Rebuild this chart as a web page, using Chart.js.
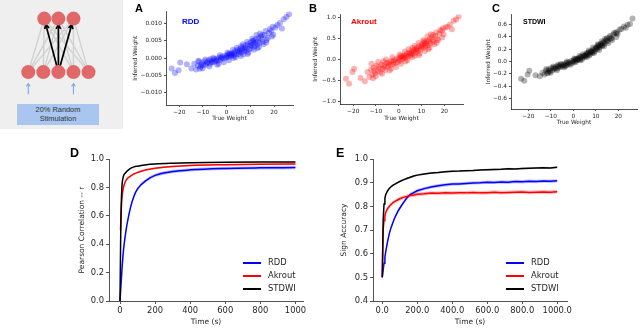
<!DOCTYPE html>
<html>
<head>
<meta charset="utf-8">
<script src="https://cdn.jsdelivr.net/npm/chart.js@4.4.1/dist/chart.umd.min.js"></script>
<style>
  body { margin: 0; width: 640px; height: 329px; background: #fff; position: relative; overflow: hidden; font-family: "DejaVu Sans", sans-serif; }
  canvas { position: absolute; }
  .letter { position: absolute; font-family: "Liberation Sans", Arial, sans-serif; font-weight: bold; color: #000; line-height: 1; z-index: 2; }
  .tag { position: absolute; font-family: "Liberation Sans", Arial, sans-serif; font-weight: bold; line-height: 1; z-index: 2; }
  .leg { position: absolute; font-size: 8.4px; color: #262626; z-index: 2; }
  .leg div { height: 13px; line-height: 13px; white-space: nowrap; }
  .leg span { display: inline-block; width: 18px; height: 2px; vertical-align: middle; margin-right: 7px; }
  #netbg { position: absolute; left: 0; top: 0; width: 123px; height: 129px; background: #efefef; }
  #stim { position: absolute; left: 17px; top: 104px; width: 82px; height: 21px; background: #a8c6f0;
          font-family: "Liberation Sans", Arial, sans-serif; font-size: 7.4px; line-height: 8.5px; color: #333;
          text-align: center; display: flex; align-items: center; justify-content: center; z-index: 2; }
</style>
</head>
<body>
<div id="netbg"></div>
<canvas id="net"></canvas>
<div id="stim">20% Random<br>Stimulation</div>

<canvas id="chartA"></canvas>
<canvas id="chartB"></canvas>
<canvas id="chartC"></canvas>
<canvas id="chartD"></canvas>
<canvas id="chartE"></canvas>

<div class="letter" style="left:135px;top:3px;font-size:11px">A</div>
<div class="letter" style="left:309px;top:3px;font-size:11px">B</div>
<div class="letter" style="left:492px;top:3px;font-size:11px">C</div>
<div class="letter" style="left:70px;top:147px;font-size:12.5px">D</div>
<div class="letter" style="left:336px;top:147px;font-size:12.5px">E</div>

<div class="tag" style="left:182px;top:18px;font-size:8px;color:#0000ff">RDD</div>
<div class="tag" style="left:351px;top:18px;font-size:8px;color:#ff0000">Akrout</div>
<div class="tag" style="left:523px;top:18px;font-size:7px;color:#000">STDWI</div>

<div class="leg" style="left:243px;top:256px">
  <div><span style="background:#0000ff"></span>RDD</div>
  <div><span style="background:#ff0000"></span>Akrout</div>
  <div><span style="background:#000"></span>STDWI</div>
</div>
<div class="leg" style="left:506px;top:256px">
  <div><span style="background:#0000ff"></span>RDD</div>
  <div><span style="background:#ff0000"></span>Akrout</div>
  <div><span style="background:#000"></span>STDWI</div>
</div>

<script>
// ---- network diagram ----
const topNodesX = [42, 58, 75];
const bottomNodesX = [24, 41, 58, 75, 92];
const topRowY = 13;
const bottomRowY = 73;
const hubIndex = 2;            // bottom node that drives the top layer
const stimulatedX = [24, 75];  // blue input arrows
const stimFromY = 98, stimToY = 86;

// ---- scatter panels (true vs inferred weight) ----
const trueWeight = [-23.2, -21.8, -20.3, -19.6, -16.8, -14.9, -13.7, -12.9, -12.2, -11.6,
  -11.0, -10.4, -9.9, -9.3, -8.8, -8.1, -7.6, -7.0, -6.5, -5.9,
  -5.3, -4.8, -4.2, -3.7, -3.1, -2.6, -2.0, -1.5, -0.9, -0.4,
  0.2, 0.7, 1.3, 1.8, 2.4, 2.9, 3.5, 4.0, 4.6, 5.1,
  5.7, 6.2, 6.8, 7.3, 7.9, 8.4, 9.0, 9.5, 10.1, 10.6,
  11.2, 11.7, 12.3, 12.8, 13.4, 13.9, 14.5, 15.2, 16.0, 16.9,
  17.8, 18.9, 19.7, 20.6, 21.4, 22.5, 23.3, 24.1, 25.2, 26.3,
  -10.8, -8.4, -6.2, -4.5, -2.3, -0.1, 1.6, 3.2, 4.9, 6.5,
  8.1, 9.8, 11.4, 13.1, 14.8, 2.1, 5.4, 7.6, 10.3, 12.0,
  -12.0, -10.1, -9.0, -7.3, -5.6, -4.0, -2.8, -1.2, 0.4, 1.0,
  2.7, 3.8, 4.3, 5.9, 6.9, 7.1, 8.7, 9.2, 10.8, 11.5,
  12.6, 13.6, 14.1, 15.6, 16.4, 17.3, 18.2, 19.1, -11.3, -6.8,
  -3.4, 0.9, 3.0, 6.0, 8.9, 11.0, 13.0, 15.0, 16.7, 19.4];

const rddInferred = [-0.0030, -0.0043, -0.0035, -0.0013, -0.0018, -0.0030, -0.0016, -0.0033, -0.0022, -0.0010,
  -0.0025, -0.0014, -0.0021, -0.0009, -0.0019, -0.0012, -0.0006, -0.0016, -0.0008, -0.0013,
  -0.0003, -0.0010, -0.0002, -0.0008, 0.0002, -0.0005, 0.0004, -0.0002, 0.0007, 0.0001,
  0.0009, 0.0002, 0.0012, 0.0005, 0.0015, 0.0007, 0.0019, 0.0010, 0.0023, 0.0012,
  0.0026, 0.0016, 0.0031, 0.0019, 0.0036, 0.0022, 0.0040, 0.0025, 0.0045, 0.0029,
  0.0049, 0.0033, 0.0054, 0.0038, 0.0058, 0.0043, 0.0062, 0.0047, 0.0066, 0.0052,
  0.0072, 0.0078, 0.0067, 0.0088, 0.0095, 0.0101, 0.0085, 0.0112, 0.0118, 0.0126,
  -0.0020, -0.0015, -0.0011, -0.0006, 0.0000, 0.0004, 0.0009, 0.0013, 0.0018, 0.0024,
  0.0029, 0.0035, 0.0041, 0.0048, 0.0055, 0.0010, 0.0020, 0.0027, 0.0037, 0.0044,
  -0.0008, -0.0029, -0.0004, -0.0024, 0.0001, -0.0019, 0.0008, -0.0012, 0.0016, -0.0006,
  0.0024, 0.0002, 0.0030, 0.0006, 0.0040, 0.0010, 0.0047, 0.0016, 0.0056, 0.0024,
  0.0066, 0.0032, 0.0071, 0.0040, 0.0078, 0.0058, 0.0083, 0.0062, -0.0031, -0.0003,
  -0.0016, 0.0013, 0.0000, 0.0034, 0.0012, 0.0050, 0.0028, 0.0066, 0.0045, 0.0090];

const akroutInferred = [-0.46, -0.58, -0.30, -0.22, -0.44, -0.52, -0.30, -0.42, -0.24, -0.36,
  -0.20, -0.33, -0.15, -0.28, -0.18, -0.31, -0.12, -0.22, -0.14, -0.25,
  -0.08, -0.17, -0.06, -0.14, -0.03, -0.11, -0.02, -0.09, 0.02, -0.06,
  0.04, -0.03, 0.07, 0.01, 0.10, 0.04, 0.13, 0.07, 0.16, 0.09,
  0.20, 0.13, 0.24, 0.16, 0.28, 0.20, 0.32, 0.23, 0.36, 0.27,
  0.40, 0.31, 0.44, 0.34, 0.48, 0.38, 0.52, 0.42, 0.56, 0.49,
  0.62, 0.68, 0.60, 0.76, 0.78, 0.83, 0.72, 0.92, 0.95, 1.02,
  -0.27, -0.22, -0.18, -0.11, -0.06, -0.01, 0.04, 0.09, 0.13, 0.19,
  0.25, 0.29, 0.35, 0.42, 0.46, 0.06, 0.15, 0.22, 0.32, 0.38,
  -0.10, -0.40, -0.06, -0.34, 0.00, -0.26, 0.05, -0.18, 0.12, -0.10,
  0.19, -0.02, 0.24, 0.05, 0.32, 0.09, 0.39, 0.14, 0.46, 0.20,
  0.55, 0.28, 0.60, 0.36, 0.64, 0.46, 0.70, 0.52, -0.45, -0.04,
  -0.22, 0.09, -0.05, 0.27, 0.10, 0.43, 0.24, 0.58, 0.40, 0.74];

const stdwiInferred = [-0.28, -0.31, -0.21, -0.15, -0.22, -0.24, -0.18, -0.21, -0.15, -0.19,
  -0.13, -0.16, -0.11, -0.14, -0.10, -0.12, -0.08, -0.11, -0.07, -0.09,
  -0.05, -0.08, -0.04, -0.06, -0.02, -0.05, -0.01, -0.03, 0.01, -0.02,
  0.02, 0.00, 0.04, 0.02, 0.06, 0.04, 0.08, 0.06, 0.10, 0.08,
  0.12, 0.10, 0.15, 0.12, 0.17, 0.14, 0.20, 0.17, 0.23, 0.20,
  0.26, 0.23, 0.29, 0.26, 0.32, 0.29, 0.35, 0.33, 0.39, 0.38,
  0.44, 0.46, 0.45, 0.52, 0.53, 0.57, 0.55, 0.60, 0.61, 0.70,
  -0.15, -0.11, -0.08, -0.06, -0.03, 0.00, 0.03, 0.07, 0.09, 0.13,
  0.16, 0.21, 0.24, 0.30, 0.34, 0.04, 0.10, 0.15, 0.22, 0.27,
  -0.12, -0.18, -0.08, -0.14, -0.04, -0.09, 0.00, -0.05, 0.05, -0.01,
  0.09, 0.03, 0.12, 0.07, 0.18, 0.10, 0.23, 0.14, 0.28, 0.19,
  0.33, 0.25, 0.37, 0.30, 0.42, 0.35, 0.47, 0.40, -0.18, -0.05,
  -0.07, 0.04, 0.02, 0.14, 0.16, 0.26, 0.26, 0.38, 0.37, 0.48];

const scatterXTicks = [-20, -10, 0, 10, 20];
const rddYTicks = [-0.010, -0.005, 0.000, 0.005, 0.010];
const akroutYTicks = [-1.0, -0.5, 0.0, 0.5, 1.0];
const stdwiYTicks = [-0.6, -0.4, -0.2, 0.0, 0.2, 0.4, 0.6];

// ---- D: Pearson correlation over time ----
const pearsonTime = [0, 3, 5, 10, 20, 30, 40, 60, 80, 100, 150, 200, 300, 400, 600, 800, 1000];
const pearsonRdd = [0, 0.06, 0.10, 0.20, 0.36, 0.46, 0.54, 0.66, 0.74, 0.79, 0.85, 0.885, 0.912, 0.924, 0.934, 0.938, 0.940];
const pearsonAkrout = [null, 0.50, 0.58, 0.71, 0.80, 0.84, 0.86, 0.88, 0.895, 0.905, 0.925, 0.935, 0.948, 0.955, 0.960, 0.963, 0.965];
const pearsonStdwi = [0, 0.35, 0.55, 0.78, 0.88, 0.90, 0.915, 0.935, 0.945, 0.950, 0.960, 0.965, 0.970, 0.973, 0.977, 0.979, 0.980];
const pearsonRddSpread = 0.012, pearsonAkroutSpread = 0.005, pearsonStdwiSpread = 0.003;
const pearsonXTicks = [0, 200, 400, 600, 800, 1000];
const pearsonYTicks = [0.0, 0.2, 0.4, 0.6, 0.8, 1.0];

// ---- E: sign accuracy over time ----
const signTime = [0, 5, 10, 15, 20, 30, 40, 50, 60, 70, 80, 90, 100, 120, 140, 160, 180, 200,
  240, 280, 320, 360, 400, 440, 480, 520, 560, 600, 640, 680, 720, 760, 800, 840, 880, 920, 960, 1000];
const signRdd = [0.50, 0.53, 0.56, 0.585, 0.61, 0.65, 0.685, 0.71, 0.73, 0.75, 0.765, 0.78, 0.792, 0.815, 0.835, 0.85, 0.858, 0.866,
  0.875, 0.882, 0.887, 0.891, 0.894, 0.895, 0.897, 0.899, 0.900, 0.902, 0.901, 0.903, 0.902, 0.905, 0.904, 0.906, 0.905, 0.907, 0.906, 0.908];
const signAkrout = [0.50, 0.70, 0.74, 0.76, 0.775, 0.79, 0.80, 0.808, 0.815, 0.82, 0.824, 0.828, 0.832, 0.838, 0.842, 0.846, 0.848, 0.851,
  0.853, 0.856, 0.855, 0.857, 0.856, 0.858, 0.857, 0.859, 0.857, 0.858, 0.860, 0.858, 0.859, 0.860, 0.861, 0.859, 0.860, 0.861, 0.860, 0.862];
const signStdwi = [0.50, 0.74, 0.81, 0.835, 0.85, 0.865, 0.876, 0.883, 0.889, 0.893, 0.897, 0.901, 0.905, 0.912, 0.918, 0.923, 0.928, 0.932,
  0.937, 0.941, 0.943, 0.946, 0.948, 0.949, 0.951, 0.952, 0.954, 0.955, 0.956, 0.957, 0.959, 0.958, 0.960, 0.961, 0.962, 0.963, 0.962, 0.965];
const signRddSpread = 0.007, signAkroutSpread = 0.008, signStdwiSpread = 0.004;
const signXTicks = [0, 200, 400, 600, 800, 1000];
const signYTicks = [0.4, 0.5, 0.6, 0.7, 0.8, 0.9, 1.0];

Chart.defaults.animation = false;
Chart.defaults.font.family = '"DejaVu Sans", sans-serif';
Chart.defaults.color = '#262626';
Chart.defaults.plugins.legend.display = false;
Chart.defaults.plugins.tooltip.enabled = false;

const INK = '#262626';

function signed(v, d) {
  return (v < 0 ? '\u2212' : '') + Math.abs(v).toFixed(d);
}

// size the canvas so the plot area lands on the given box
function place(id, area, yW, xH, padTop, padRight) {
  const c = document.getElementById(id);
  c.width = (area.r - area.l) + yW + padRight;
  c.height = (area.b - area.t) + xH + padTop;
  c.style.left = (area.l - yW) + 'px';
  c.style.top = (area.t - padTop) + 'px';
  return c;
}

function axis(pos, range, ticks, fmt, title, fs, tfs, size, tickLen) {
  return {
    type: 'linear', position: pos, min: range[0], max: range[1],
    afterBuildTicks: s => { s.ticks = ticks.map(v => ({ value: v })); },
    afterFit: s => { if (pos === 'left') s.width = size; else s.height = size; },
    grid: { display: true, drawOnChartArea: false, drawTicks: true, tickLength: tickLen, tickColor: INK, tickWidth: 0.8 },
    border: { display: true, color: INK, width: 0.8 },
    ticks: { font: { size: fs }, color: INK, padding: 2, maxRotation: 0, autoSkip: false, callback: v => fmt(v) },
    title: { display: true, text: title, font: { size: tfs }, color: INK, padding: 0 }
  };
}

function scatterPanel(id, area, yW, xH, xRange, yRange, yTicks, yDigits, ys, color) {
  const c = place(id, area, yW, xH, 4, 4);
  new Chart(c, {
    type: 'scatter',
    data: { datasets: [{
      data: trueWeight.map((x, i) => ({ x: x, y: ys[i] })),
      backgroundColor: color, borderWidth: 0, pointRadius: 3
    }] },
    options: {
      responsive: false,
      layout: { padding: { top: 4, right: 4, left: 0, bottom: 0 } },
      scales: {
        x: axis('bottom', xRange, scatterXTicks, v => signed(v, 0), 'True Weight', 5.8, 5.8, xH, 2),
        y: axis('left', yRange, yTicks, v => signed(v, yDigits), 'Inferred Weight', 5.8, 5.8, yW, 2)
      }
    }
  });
}

scatterPanel('chartA', { l: 166, r: 293, t: 10, b: 105 }, 34, 17, [-25.6, 28.0], [-0.0135, 0.0134], rddYTicks, 3, rddInferred, 'rgba(0,0,255,0.3)');
scatterPanel('chartB', { l: 340, r: 463, t: 13, b: 104 }, 28, 18, [-25.8, 28.2], [-1.06, 1.07], akroutYTicks, 1, akroutInferred, 'rgba(255,0,0,0.3)');
scatterPanel('chartC', { l: 511, r: 637, t: 13, b: 109 }, 26, 17, [-27.7, 28.3], [-0.77, 0.765], stdwiYTicks, 1, stdwiInferred, 'rgba(0,0,0,0.3)');

function series(xs, ys, off) {
  return xs.map((x, i) => ({ x: x, y: ys[i] == null ? null : ys[i] + off }));
}

function linePanel(id, area, yW, xH, xRange, yRange, xTicks, yTicks, xFmt, yTitle, times, rows, smooth) {
  const c = place(id, area, yW, xH, 6, 8);
  const datasets = [];
  rows.forEach((r, k) => {
    datasets.push({
      data: series(times, r.ys, 0), borderColor: r.color, borderWidth: 1.5,
      pointRadius: 0, fill: false, spanGaps: true, order: k,
      cubicInterpolationMode: smooth ? 'monotone' : 'default', tension: 0
    });
  });
  rows.forEach((r, k) => {
    datasets.push({
      data: series(times, r.ys, r.spread), borderWidth: 0, pointRadius: 0, spanGaps: true,
      backgroundColor: r.band, fill: '+1', order: 10 + k,
      cubicInterpolationMode: smooth ? 'monotone' : 'default', tension: 0
    });
    datasets.push({
      data: series(times, r.ys, -r.spread), borderWidth: 0, pointRadius: 0, spanGaps: true,
      fill: false, order: 10 + k,
      cubicInterpolationMode: smooth ? 'monotone' : 'default', tension: 0
    });
  });
  new Chart(c, {
    type: 'line',
    data: { datasets: datasets },
    options: {
      responsive: false,
      parsing: false,
      layout: { padding: { top: 6, right: 8, left: 0, bottom: 0 } },
      scales: {
        x: axis('bottom', xRange, xTicks, xFmt, 'Time (s)', 8.4, 7.5, xH, 3),
        y: axis('left', yRange, yTicks, v => v.toFixed(1), yTitle, 8.4, 7.5, yW, 3)
      }
    }
  });
}

linePanel('chartD', { l: 109, r: 303, t: 158, b: 301 }, 31, 26, [-62.7, 1043], [0, 1.0],
  pearsonXTicks, pearsonYTicks, v => String(v), 'Pearson Correlation -- r', pearsonTime, [
    { ys: pearsonStdwi, color: '#000000', band: 'rgba(0,0,0,0.2)', spread: pearsonStdwiSpread },
    { ys: pearsonAkrout, color: '#ff0000', band: 'rgba(255,0,0,0.25)', spread: pearsonAkroutSpread },
    { ys: pearsonRdd, color: '#0000ff', band: 'rgba(0,0,255,0.25)', spread: pearsonRddSpread }
  ], true);

linePanel('chartE', { l: 373, r: 567, t: 158, b: 301 }, 33, 26, [-53, 1056], [0.4, 1.0],
  signXTicks, signYTicks, v => v.toFixed(1), 'Sign Accuracy', signTime, [
    { ys: signStdwi, color: '#000000', band: 'rgba(0,0,0,0.2)', spread: signStdwiSpread },
    { ys: signAkrout, color: '#ff0000', band: 'rgba(255,0,0,0.25)', spread: signAkroutSpread },
    { ys: signRdd, color: '#0000ff', band: 'rgba(0,0,255,0.25)', spread: signRddSpread }
  ], false);

// ---- network diagram drawn as a scatter on a pixel-sized grid ----
(function () {
  const c = document.getElementById('net');
  c.width = 123; c.height = 129;
  c.style.left = '0px'; c.style.top = '0px';
  const nodeR = 7;
  const ds = [];
  const line = (pts, color, w, order) => ds.push({
    type: 'line', data: pts, borderColor: color, borderWidth: w, pointRadius: 0, fill: false, order: order, tension: 0
  });
  // chevron arrowhead at tip, pointing along (dx, dy)
  const head = (tx, ty, dx, dy, len, wing) => {
    const n = Math.hypot(dx, dy), ux = dx / n, uy = dy / n;
    return [{ x: tx - ux * len - uy * wing, y: ty - uy * len + ux * wing }, { x: tx, y: ty },
            { x: tx - ux * len + uy * wing, y: ty - uy * len - ux * wing }];
  };
  bottomNodesX.forEach(bx => topNodesX.forEach(tx => {
    line([{ x: bx, y: bottomRowY }, { x: tx, y: topRowY }], '#cfcfcf', 1.3, 5);
  }));
  const hx = bottomNodesX[hubIndex];
  topNodesX.forEach(tx => {
    const dx = tx - hx, dy = topRowY - bottomRowY, n = Math.hypot(dx, dy);
    const tipX = tx - dx / n * nodeR, tipY = topRowY - dy / n * nodeR;
    line([{ x: hx, y: bottomRowY }, { x: tipX, y: tipY }], '#000', 1.7, 3);
    line(head(tipX, tipY, dx, dy, 4.5, 2.6), '#000', 1.7, 3);
  });
  stimulatedX.forEach(sx => {
    line([{ x: sx, y: stimFromY }, { x: sx, y: stimToY }], '#7fa8ea', 1.1, 4);
    line(head(sx, stimToY, 0, -1, 3, 2.2), '#7fa8ea', 1.1, 4);
  });
  ds.push({
    type: 'scatter', order: 0, pointRadius: nodeR, borderWidth: 0, backgroundColor: '#e16868',
    data: topNodesX.map(x => ({ x: x, y: topRowY })).concat(bottomNodesX.map(x => ({ x: x, y: bottomRowY })))
  });
  new Chart(c, {
    type: 'scatter',
    data: { datasets: ds },
    options: {
      responsive: false,
      layout: { padding: 0 },
      scales: {
        x: { type: 'linear', display: false, min: 0, max: 123 },
        y: { type: 'linear', display: false, min: 0, max: 129, reverse: true }
      }
    }
  });
})();
</script>
</body>
</html>
